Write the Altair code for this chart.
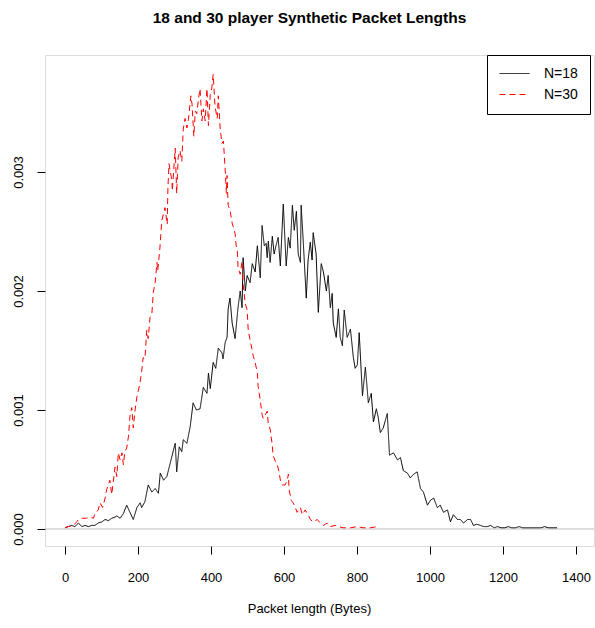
import altair as alt
import pandas as pd

# ---- data (bytes, density in units of 1e-5) ----
n18_bytes = [0, 9, 18, 27, 37, 46, 55, 64, 73, 82, 91, 101, 110, 119, 128, 137, 142, 151, 160, 169,
             178, 187, 197, 206, 210, 219, 228, 238, 247, 256, 261, 270, 279, 288, 297, 302, 306, 313, 320, 324,
             334, 343, 351, 360, 370, 379, 389, 393, 398, 406, 413, 420, 430, 433, 439, 444, 447, 452, 458, 466,
             474, 480, 485, 488, 494, 499, 507, 513, 521, 527, 535, 540, 546, 551, 554, 557, 562, 568, 573, 578,
             584, 590, 598, 606, 612, 617, 623, 628, 634, 639, 645, 647, 653, 661, 666, 672, 677, 680, 688, 694,
             702, 708, 716, 721, 727, 732, 735, 743, 749, 754, 760, 765, 773, 782, 790, 795, 801, 806, 815, 823,
             831, 839, 845, 853, 858, 864, 872, 883, 889, 900, 911, 919, 927, 938, 946, 955, 965, 968, 974, 982,
             993, 1001, 1010, 1020, 1028, 1037, 1048, 1056, 1064, 1075, 1083, 1092, 1103, 1111, 1119, 1128, 1138, 1147, 1157, 1166,
             1176, 1185, 1195, 1205, 1214, 1224, 1234, 1244, 1254, 1264, 1274, 1284, 1294, 1304, 1314, 1324, 1334, 1348]
n18_dens_e5 = [1, 2, 3, 2, 5, 2, 3, 2, 3, 3, 5, 6, 8, 7, 9, 10, 11, 9, 13, 20,
               14, 8, 18, 22, 18, 23, 37, 31, 34, 30, 47, 41, 44, 55, 66, 72, 48, 69, 65, 75,
               72, 86, 106, 100, 101, 119, 114, 131, 118, 140, 135, 152, 148, 143, 157, 161, 185, 194, 173, 160,
               186, 200, 186, 228, 200, 213, 207, 223, 216, 238, 211, 255, 238, 240, 228, 242, 224, 246, 231, 238,
               245, 221, 273, 221, 245, 236, 272, 251, 267, 231, 224, 272, 240, 194, 226, 241, 226, 249, 231, 182,
               223, 216, 200, 213, 186, 198, 173, 161, 185, 161, 154, 184, 161, 168, 144, 135, 138, 165, 112, 136,
               106, 114, 90, 101, 94, 81, 85, 97, 62, 64, 58, 60, 49, 47, 43, 46, 48, 43, 34, 31,
               20, 24, 26, 18, 20, 14, 16, 6, 12, 8, 8, 5, 8, 8, 3, 4, 3, 2, 2, 3,
               1, 2, 1, 1, 2, 1, 1, 2, 1, 1, 1, 1, 1, 1, 2, 1, 1, 1]

n30_bytes = [0, 9, 23, 32, 37, 46, 59, 68, 78, 82, 91, 96, 103, 110, 114, 123, 128, 132, 137, 142,
             146, 151, 156, 160, 164, 169, 174, 178, 183, 187, 192, 197, 205, 210, 214, 219, 224, 228, 233, 238,
             242, 247, 252, 254, 260, 265, 274, 280, 282, 285, 288, 293, 294, 302, 306, 310, 315, 320, 324, 329,
             334, 338, 345, 348, 353, 357, 361, 366, 370, 375, 379, 384, 389, 393, 398, 402, 406, 411, 417, 420,
             425, 430, 434, 439, 442, 444, 447, 452, 458, 461, 466, 469, 472, 474, 480, 485, 488, 494, 499, 502,
             507, 513, 516, 521, 527, 529, 535, 540, 543, 549, 554, 557, 562, 568, 570, 576, 581, 587, 590, 595,
             598, 603, 609, 612, 614, 620, 625, 631, 636, 645, 650, 658, 666, 672, 680, 691, 699, 708, 718, 727,
             740, 749, 762, 782, 801, 817, 836, 856]
n30_dens_e5 = [1, 2, 3, 6, 8, 9, 9, 10, 9, 13, 16, 22, 18, 26, 33, 41, 29, 39, 52, 44,
               64, 58, 64, 54, 65, 68, 78, 95, 102, 85, 100, 111, 122, 132, 144, 143, 167, 160, 178, 181,
               199, 207, 224, 217, 236, 259, 270, 256, 287, 307, 301, 293, 284, 320, 282, 312, 318, 309, 336, 345,
               337, 344, 364, 357, 330, 351, 349, 362, 370, 343, 353, 343, 370, 339, 365, 370, 382, 355, 345, 364,
               337, 324, 326, 301, 282, 297, 272, 268, 257, 254, 248, 238, 234, 220, 214, 225, 206, 189, 184, 167,
               159, 150, 145, 140, 131, 120, 108, 96, 93, 96, 99, 88, 84, 70, 62, 57, 55, 47, 41, 37,
               37, 37, 41, 46, 33, 24, 22, 18, 14, 18, 12, 16, 12, 8, 6, 8, 5, 3, 5, 2,
               3, 2, 1, 1, 2, 1, 1, 2]

series_names = ["N=18", "N=30"]
series_colors = ["black", "red"]
x_ticks = [0, 200, 400, 600, 800, 1000, 1200, 1400]
y_ticks = [0.0, 0.001, 0.002, 0.003]

rows = []
for b, d in zip(n18_bytes, n18_dens_e5):
    rows.append({"bytes": b, "density": d * 1e-5, "series": series_names[0]})
for b, d in zip(n30_bytes, n30_dens_e5):
    rows.append({"bytes": b, "density": d * 1e-5, "series": series_names[1]})
df = pd.DataFrame(rows)
zero_df = pd.DataFrame({"zero": [0.0]})

FONT = "Liberation Sans"
x_scale = alt.Scale(domain=[-54.8, 1449.3], nice=False, zero=False)
y_scale = alt.Scale(domain=[-0.000143, 0.003983], nice=False, zero=False)

legend = alt.Legend(
    title=None, orient="none", legendX=442, legendY=0,
    symbolType="stroke", symbolSize=900, symbolStrokeWidth=1, clipHeight=13,
    labelFont=FONT, labelFontSize=14, labelColor="black", labelOffset=14,
    padding=12, rowPadding=6, strokeColor="black", fillColor="white",
    cornerRadius=0, labelExpr="datum.label + '    '",
)

x_axis = alt.Axis(
    values=x_ticks, format="d", labelFont=FONT, labelFontSize=13, labelColor="black",
    tickColor="black", tickSize=8, tickWidth=1, domain=False, grid=False,
    labelPadding=17, labelFlush=False, labelOverlap=False,
    title="Packet length (Bytes)", titleFont=FONT, titleFontSize=13, titleFontWeight="normal",
    titleColor="black", titleX=264, titleY=66, titleAlign="center", titleBaseline="alphabetic",
)
y_axis = alt.Axis(
    values=y_ticks, format=".3f", labelFont=FONT, labelFontSize=13, labelColor="black",
    labelAngle=270, labelAlign="center", labelBaseline="alphabetic", labelPadding=15,
    tickColor="black", tickSize=8, tickWidth=1, domain=False, grid=False,
    labelFlush=False, labelOverlap=False, title=None,
)

zero_line = alt.Chart(zero_df).mark_rule(color="#bebebe", strokeWidth=1).encode(
    y=alt.Y("zero:Q", scale=y_scale, axis=y_axis)
)

lines = alt.Chart(df).mark_line(strokeWidth=1, clip=True).encode(
    x=alt.X("bytes:Q", scale=x_scale, axis=x_axis),
    y=alt.Y("density:Q", scale=y_scale, axis=y_axis),
    color=alt.Color("series:N", scale=alt.Scale(domain=series_names, range=series_colors), legend=legend),
    strokeDash=alt.StrokeDash("series:N", scale=alt.Scale(domain=series_names, range=[[1, 0], [6, 4]]), legend=legend),
)

chart = alt.layer(zero_line, lines).properties(
    width=549, height=491,
    title=alt.TitleParams(
        "18 and 30 player Synthetic Packet Lengths", font=FONT, fontSize=15.5, fontWeight="bold",
        color="black", anchor="middle", frame="group", dx=-10, offset=28,
    ),
    autosize=alt.AutoSizeParams(type="none"),
    padding={"left": 45, "top": 55, "right": 1, "bottom": 82},
).configure_view(stroke="black", strokeWidth=1).configure(background="white")

chart.save("out.html", embed_options={"renderer": "svg", "actions": False})
